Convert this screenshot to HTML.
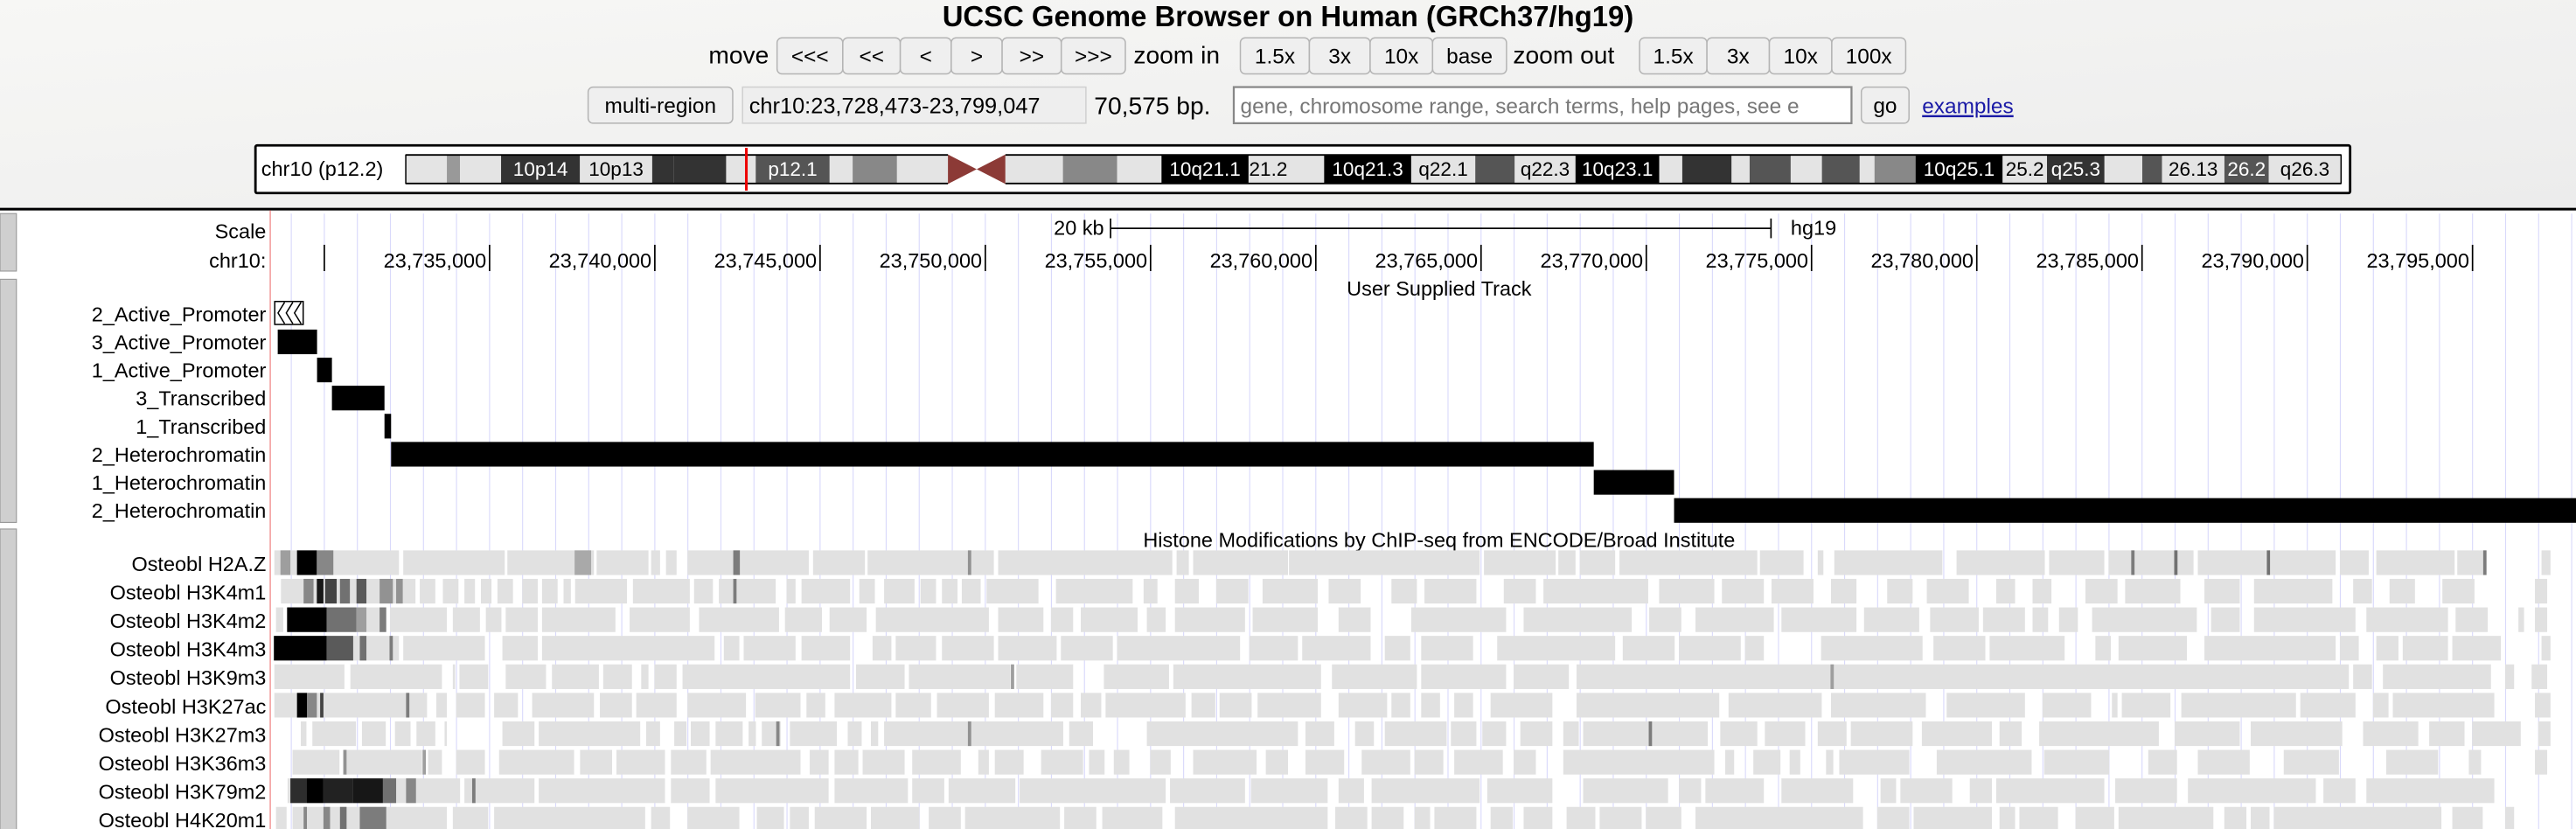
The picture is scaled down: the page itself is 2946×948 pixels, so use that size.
<!DOCTYPE html>
<html><head><meta charset="utf-8"><style>
html,body{margin:0;padding:0;width:2946px;height:948px;overflow:hidden;background:#fff}
svg{display:block}
text{font-family:"Liberation Sans",Arial,sans-serif}
</style></head><body>
<svg id="page" width="2946" height="948" viewBox="0 0 1568 504.6" preserveAspectRatio="none" xmlns="http://www.w3.org/2000/svg">
<defs><linearGradient id="hdr" x1="0" y1="0" x2="1" y2="1"><stop offset="0" stop-color="#f7f7f5"/><stop offset="1" stop-color="#ececec"/></linearGradient></defs>
<rect x="0" y="0" width="1568" height="127" fill="url(#hdr)"/>
<text x="784" y="16" font-size="17.5" font-weight="bold" text-anchor="middle">UCSC Genome Browser on Human (GRCh37/hg19)</text>
<g id="nav" font-size="13.5"></g>
<g id="ideo"></g>
<rect x="0" y="126.5" width="1568" height="1.6" fill="#000"/>
<g id="grid"></g>
<g id="main"></g>
</svg>
<script>
// ---- data ----
const regionStart = 23728473;
const regionEnd = 23799047;
const tickBp = [23730000,23735000,23740000,23745000,23750000,23755000,23760000,23765000,23770000,23775000,23780000,23785000,23790000,23795000];
const tickLabels = ["","23,735,000","23,740,000","23,745,000","23,750,000","23,755,000","23,760,000","23,765,000","23,770,000","23,775,000","23,780,000","23,785,000","23,790,000","23,795,000"];
const chromLabels = ["2_Active_Promoter","3_Active_Promoter","1_Active_Promoter","3_Transcribed","1_Transcribed","2_Heterochromatin","1_Heterochromatin","2_Heterochromatin"];
const chromStarts = [23728500,23728590,23729780,23730230,23731820,23732020,23768410,23770840];
const chromEnds   = [23729360,23729780,23730230,23731820,23732020,23768410,23770840,23799047];
const histLabels = ["Osteobl H2A.Z","Osteobl H3K4m1","Osteobl H3K4m2","Osteobl H3K4m3","Osteobl H3K9m3","Osteobl H3K27ac","Osteobl H3K27m3","Osteobl H3K36m3","Osteobl H3K79m2","Osteobl H4K20m1"];
const histBlocks = [
 [[0,3.8],[3.9,7.0],[7.05,9.7],[9.75,11.35],[11.4,11.7],[11.85,12.2],[12.5,16.2],[16.3,17.9],[17.95,21.8],[21.9,27.2],[27.3,27.7],[27.8,30.7],[30.7,36.5],[36.6,38.8],[38.85,39.4],[39.5,40.6],[40.7,44.9],[44.95,46.3],[46.7,46.9],[47.2,50.5],[50.9,53.6],[53.7,55.4],[55.5,58.1],[58.2,60.3],[60.35,62.4],[62.5,63.4],[63.6,66.0],[66.05,66.95],[68.6,68.9]],
 [[0.2,4.3],[4.4,4.9],[5.1,5.6],[5.75,6.1],[6.25,6.6],[6.75,7.25],[7.5,8.0],[8.1,8.6],[8.75,9.0],[9.1,10.7],[10.85,12.6],[12.7,13.3],[13.45,15.2],[15.5,15.8],[15.95,17.45],[17.7,18.2],[18.45,19.4],[19.55,20.05],[20.2,20.7],[20.8,21.4],[21.55,23.15],[23.65,26.0],[26.3,26.75],[27.25,28.0],[28.5,29.5],[29.9,31.6],[31.9,32.9],[33.8,34.6],[34.8,36.4],[37.2,38.2],[38.4,41.6],[41.9,43.6],[43.8,45.1],[45.3,46.6],[47.1,47.9],[48.8,49.6],[50.0,51.3],[52.1,52.7],[53.2,53.8],[54.8,55.8],[56.0,57.7],[58.4,59.5],[59.9,62.3],[62.9,63.5],[64.0,64.8],[65.6,66.6],[68.4,68.8]],
 [[0.05,0.3],[0.4,3.4],[3.5,5.25],[5.4,6.25],[6.4,6.9],[7.0,8.0],[8.1,10.35],[10.75,12.6],[12.85,15.3],[15.45,16.6],[16.8,17.95],[18.2,21.65],[21.9,23.3],[23.5,24.2],[24.4,26.15],[26.4,27.0],[27.25,29.4],[29.6,31.6],[32.2,33.2],[34.4,37.3],[37.8,41.1],[41.6,42.6],[43.0,45.4],[45.6,47.9],[48.1,49.8],[50.1,51.6],[51.7,53.0],[53.2,53.7],[54.0,54.6],[55.0,58.2],[58.6,59.5],[59.9,63.0],[63.3,65.8],[66.0,67.0],[67.9,68.1],[68.4,68.8]],
 [[0,3.8],[3.9,6.4],[6.9,8.0],[8.1,13.35],[13.6,14.1],[14.2,15.8],[15.95,17.45],[18.1,18.7],[18.8,20.05],[20.2,21.8],[21.9,23.7],[23.8,25.4],[25.5,29.25],[29.5,31.0],[31.1,33.2],[33.6,34.4],[34.7,36.3],[37.0,40.6],[40.8,42.4],[42.5,44.4],[44.5,45.1],[46.8,49.9],[50.2,51.8],[51.9,54.2],[55.1,55.6],[55.8,57.9],[58.4,62.4],[62.5,63.1],[63.6,64.3],[64.4,65.8],[65.9,67.4],[68.6,68.9]],
 [[0,2.15],[2.3,5.1],[5.4,5.5],[5.6,6.5],[7.0,8.25],[8.4,9.85],[9.95,10.85],[11.1,11.35],[11.5,12.2],[12.35,17.45],[17.6,19.1],[19.2,22.3],[22.45,24.2],[25.1,27.1],[27.2,31.7],[32.0,34.6],[34.7,37.3],[37.5,39.2],[39.4,62.8],[62.9,63.5],[63.8,67.1],[67.5,67.8],[68.3,68.8]],
 [[0,4.65],[4.9,5.25],[5.5,6.4],[6.65,7.4],[7.8,9.7],[9.85,10.85],[10.95,12.2],[12.5,14.3],[14.55,15.95],[16.1,16.7],[16.95,18.7],[18.8,19.9],[20.05,21.65],[21.8,23.3],[23.5,24.2],[24.4,25.05],[25.15,27.6],[27.75,28.5],[28.6,29.6],[29.75,31.7],[32.2,33.7],[33.8,34.4],[34.7,35.3],[35.7,36.3],[36.8,38.7],[39.4,43.75],[44.0,46.85],[47.1,50.0],[50.6,53.0],[53.5,55.0],[55.6,55.8],[55.9,57.4],[57.7,61.2],[61.3,63.0],[63.5,64.0],[64.1,67.2],[68.4,68.9]],
 [[0.8,1.0],[1.15,2.5],[2.65,3.4],[3.65,4.15],[4.3,4.9],[5.15,5.25],[6.9,7.9],[8.0,11.1],[11.25,11.7],[12.1,12.5],[12.6,13.2],[13.35,14.2],[14.35,14.6],[14.75,15.35],[15.6,17.05],[17.35,17.8],[18.05,18.3],[18.45,23.9],[24.05,24.8],[26.4,31.0],[31.2,32.1],[32.7,33.3],[33.6,35.5],[35.6,36.4],[36.55,37.3],[37.7,38.7],[39.0,39.5],[39.6,43.4],[43.75,44.9],[45.1,46.35],[46.7,47.6],[47.7,49.6],[49.85,52.0],[52.2,52.9],[53.4,57.05],[57.5,59.5],[59.8,62.6],[63.2,64.9],[65.2,66.3],[66.5,68.0],[68.5,68.9]],
 [[0.55,2.0],[2.15,4.5],[4.65,5.1],[5.5,6.4],[6.8,9.1],[9.25,10.25],[10.35,11.85],[12.0,13.1],[13.2,15.95],[16.2,16.8],[16.95,17.7],[17.8,19.1],[19.3,20.8],[21.3,21.65],[21.8,22.7],[23.2,24.5],[24.65,25.15],[25.4,25.9],[26.5,27.15],[27.8,29.75],[30.0,30.7],[31.2,32.4],[32.9,34.4],[34.5,35.4],[35.7,37.2],[37.5,38.2],[39.0,43.6],[43.9,44.2],[44.75,45.6],[45.85,46.2],[46.95,47.2],[47.35,49.5],[50.3,53.2],[53.55,55.55],[56.7,57.6],[58.2,59.8],[60.8,62.5],[63.9,65.5],[66.4,66.8],[68.4,68.8]],
 [[0.4,5.65],[5.75,7.9],[8.0,11.85],[12.0,13.2],[13.35,16.8],[16.95,19.2],[19.3,20.3],[20.4,22.45],[22.55,27.0],[27.1,29.4],[29.55,31.9],[32.2,33.0],[33.2,36.5],[36.7,38.7],[39.6,42.2],[42.5,43.2],[43.3,45.1],[45.6,47.8],[48.6,49.1],[49.2,50.8],[51.3,52.0],[52.1,55.4],[55.7,57.6],[57.9,61.8],[62.0,63.0],[63.3,67.2]],
 [[0.05,0.4],[0.55,5.25],[5.4,6.5],[6.65,11.25],[11.4,12.0],[12.5,14.1],[14.6,15.45],[15.6,16.2],[16.35,17.95],[18.05,19.55],[19.8,20.8],[20.9,23.8],[23.9,24.9],[25.05,26.9],[27.25,31.9],[32.1,33.1],[33.2,34.2],[34.5,35.0],[35.1,36.4],[36.8,37.5],[37.8,38.7],[39.1,40.0],[40.1,41.4],[41.5,42.6],[43.0,48.1],[48.5,49.5],[49.6,52.0],[52.2,52.7],[52.8,54.0],[54.5,55.7],[55.8,58.7],[59.0,59.7],[59.8,60.4],[60.5,65.6],[65.9,66.85],[67.5,67.8]]
];
const histSignals = [
 [[0.2,0.5,0.3],[0.7,1.3,1.0],[1.3,1.8,0.4],[9.1,9.6,0.25],[13.9,14.1,0.45],[21.0,21.1,0.35],[56.2,56.3,0.45],[57.5,57.6,0.5],[60.3,60.4,0.5],[66.85,66.95,0.45]],
 [[0.9,1.2,0.4],[1.3,1.5,0.9],[1.55,1.9,0.7],[2.0,2.3,0.5],[2.5,2.8,0.6],[3.2,3.6,0.35],[3.7,3.9,0.35],[13.9,14.0,0.45]],
 [[0.4,1.6,1.0],[1.6,2.5,0.5],[2.5,2.8,0.3],[3.2,3.4,0.45]],
 [[0,1.6,1.0],[1.6,2.4,0.6],[2.6,2.8,0.5],[3.5,3.6,0.45]],
 [[22.3,22.4,0.3],[47.1,47.2,0.3]],
 [[0.7,1.0,1.0],[1.0,1.3,0.4],[1.4,1.5,0.7],[4.0,4.1,0.45]],
 [[15.2,15.3,0.4],[21.0,21.1,0.35],[41.6,41.7,0.45]],
 [[2.1,2.2,0.35],[4.5,4.6,0.3]],
 [[0.5,1.0,0.8],[1.0,1.5,1.0],[1.5,2.4,0.85],[2.4,3.3,0.9],[3.3,3.7,0.5],[4.0,4.3,0.4],[6.0,6.1,0.45]],
 [[0.9,1.0,0.4],[1.5,1.7,0.4],[2.0,2.2,0.5],[2.6,3.4,0.45]]
];
const bandStarts = [247,272,280,305,353,397,410,442,460,505,519,546,577,612,647,680,707,760,784,806,859,898,922,959,1010,1024,1054,1065,1090,1109,1132,1141,1166,1219,1246,1281,1304,1316,1354,1381];
const bandEnds   = [272,280,305,353,397,410,442,460,505,519,546,577,612,647,680,707,760,784,806,859,898,922,959,1010,1024,1054,1065,1090,1109,1132,1141,1166,1219,1246,1281,1304,1316,1354,1381,1425];
const bandShades = ["#e4e4e4","#999","#e4e4e4","#333","#e4e4e4","#333","#333","#e4e4e4","#555","#e4e4e4","#888","#e4e4e4","cen","#e4e4e4","#888","#e4e4e4","#000","#e4e4e4","#e4e4e4","#000","#e4e4e4","#555","#e4e4e4","#000","#e4e4e4","#333","#e4e4e4","#555","#e4e4e4","#555","#e4e4e4","#888","#000","#e4e4e4","#333","#e4e4e4","#555","#e4e4e4","#555","#e4e4e4"];
const bandNames  = ["","","","10p14","10p13","","","","p12.1","","","","","","","","10q21.1","21.2","","10q21.3","q22.1","","q22.3","10q23.1","","","","","","","","","10q25.1","25.2","q25.3","","","26.13","26.2","q26.3"];
const scaleBarStart = 23753790;
const scaleBarEnd = 23773773;

const NS = "http://www.w3.org/2000/svg";
const svg = document.getElementById('page');
function mk(tag, attrs, parent, txt){
  const e = document.createElementNS(NS, tag);
  for (const k in attrs) e.setAttribute(k, attrs[k]);
  if (txt !== undefined) e.textContent = txt;
  (parent||svg).appendChild(e);
  return e;
}
const X0 = 166.7, PXPB = 20.117/1000;
function xScale(bp){ return X0 + (bp - regionStart) * PXPB; }
function xKb(kb){ return xScale(regionStart + kb*1000); }
const DATA_RIGHT = 1568;

const nav = document.getElementById('nav');
function button(x,y,w,h,label,name){
  const r = mk('rect',{x:x,y:y,width:w,height:h,rx:3,fill:'#efefef',stroke:'#b4b4b4','stroke-width':0.8},nav);
  
  
  const t = mk('text',{x:x+w/2,y:y+h/2+4.7,'text-anchor':'middle','font-size':13},nav,label);
  
  
}
let t = mk('text',{x:468,y:38.5,'text-anchor':'end','font-size':15},nav,'move');
 
[[473,40,'<<<','move-far-left'],[513,35,'<<','move-left-more'],[548,31,'<','move-left'],[579,31,'>','move-right'],[610,36,'>>','move-right-more'],[646,39,'>>>','move-far-right']].forEach(b=>button(b[0],23,b[1],22,b[2],b[3]));
t = mk('text',{x:690,y:38.5,'font-size':15},nav,'zoom in');
 
[[755,42,'1.5x','zoom-in-1-5x'],[797,37,'3x','zoom-in-3x'],[834,38,'10x','zoom-in-10x'],[872,45,'base','zoom-in-base']].forEach(b=>button(b[0],23,b[1],22,b[2],b[3]));
t = mk('text',{x:921,y:38.5,'font-size':15},nav,'zoom out');
 
[[998,41,'1.5x','zoom-out-1-5x'],[1039,38,'3x','zoom-out-3x'],[1077,38,'10x','zoom-out-10x'],[1115,45,'100x','zoom-out-100x']].forEach(b=>button(b[0],23,b[1],22,b[2],b[3]));
button(358,53,88,22,'multi-region','multi-region-button');
let r = mk('rect',{x:452,y:53,width:209,height:22,fill:'#eeeeee',stroke:'#d0d0d0','stroke-width':0.8},nav);
 
t = mk('text',{x:456,y:69,'font-size':13.5},nav,'chr10:23,728,473-23,799,047');
 
t = mk('text',{x:666,y:69.5,'font-size':15},nav,'70,575 bp.');
 
r = mk('rect',{x:751,y:53,width:376,height:22,fill:'#fff',stroke:'#888','stroke-width':1.2},nav);
 
t = mk('text',{x:755,y:69,'font-size':13,fill:'#777'},nav,'gene, chromosome range, search terms, help pages, see e');
 
button(1133,53,29,22,'go','go-button');
t = mk('text',{x:1170,y:69,'font-size':13,fill:'#1a1aa6','text-decoration':'underline'},nav,'examples');
 

const ideo = document.getElementById('ideo');
r = mk('rect',{x:155.5,y:88.5,width:1275,height:29,fill:'#fff',stroke:'#000','stroke-width':1.5,rx:1},ideo);
 
t = mk('text',{x:159,y:107,'font-size':12.5},ideo,'chr10 (p12.2)');
 
for (let i=0;i<bandStarts.length;i++){
  const x1=bandStarts[i], x2=bandEnds[i], c=bandShades[i];
  if (c==='cen'){
    const p = mk('polygon',{points:`${x1},94 ${(x1+x2)/2},103 ${x1},112`,fill:'#8c3a36'},ideo);
     
    mk('polygon',{points:`${x2},94 ${(x1+x2)/2},103 ${x2},112`,fill:'#8c3a36'},ideo);
    continue;
  }
  const b = mk('rect',{x:x1,y:94.5,width:x2-x1,height:17,fill:c},ideo);
  
  
  if (bandNames[i]){
    const dark = (c==='#000'||c==='#333'||c==='#555');
    const bt = mk('text',{x:(x1+x2)/2,y:107,'text-anchor':'middle','font-size':12,fill:dark?'#fff':'#000'},ideo,bandNames[i]);
    
    
  }
}
mk('line',{x1:247,y1:94.3,x2:577,y2:94.3,stroke:'#000','stroke-width':1},ideo);
mk('line',{x1:247,y1:111.7,x2:577,y2:111.7,stroke:'#000','stroke-width':1},ideo);
mk('line',{x1:612,y1:94.3,x2:1425,y2:94.3,stroke:'#000','stroke-width':1},ideo);
mk('line',{x1:612,y1:111.7,x2:1425,y2:111.7,stroke:'#000','stroke-width':1},ideo);
mk('line',{x1:247,y1:94,x2:247,y2:112,stroke:'#000','stroke-width':0.8},ideo);
mk('line',{x1:1425,y1:94,x2:1425,y2:112,stroke:'#000','stroke-width':0.8},ideo);
r = mk('rect',{x:453.5,y:90,width:1.6,height:26,fill:'#e00'},ideo);
 

const main = document.getElementById('main');
[[130,35],[170,148],[322,183]].forEach((g)=>{
  const gr = mk('rect',{x:0,y:g[0],width:10,height:g[1],fill:'#cfcfcf',stroke:'#999','stroke-width':0.6},main);
  
  
});

const grid = document.getElementById('grid');
for (let bp = Math.ceil(regionStart/1000)*1000; bp <= regionEnd; bp += 1000){
  const x = xScale(bp);
  if (x > DATA_RIGHT) break;
  const gl = mk('line',{x1:x,y1:130,x2:x,y2:505,stroke:'#d9d9fb','stroke-width':0.6},grid);
  
  
}
mk('line',{x1:164.5,y1:128,x2:164.5,y2:505,stroke:'#f08a8a','stroke-width':0.7},grid);

t = mk('text',{x:162,y:145,'text-anchor':'end','font-size':12.5},main,'Scale');
 
t = mk('text',{x:xScale(scaleBarStart)-4,y:143,'text-anchor':'end','font-size':12.5},main,'20 kb');
 
const sb = mk('line',{x1:xScale(scaleBarStart),y1:139,x2:xScale(scaleBarEnd),y2:139,stroke:'#000','stroke-width':0.9},main);
 
mk('line',{x1:xScale(scaleBarStart),y1:133,x2:xScale(scaleBarStart),y2:145,stroke:'#000','stroke-width':0.9},main);
mk('line',{x1:xScale(scaleBarEnd),y1:133,x2:xScale(scaleBarEnd),y2:145,stroke:'#000','stroke-width':0.9},main);
t = mk('text',{x:xScale(scaleBarEnd)+12,y:143,'font-size':12.5},main,'hg19');
 
t = mk('text',{x:162,y:163,'text-anchor':'end','font-size':12.5},main,'chr10:');
 
tickBp.forEach((bp,i)=>{
  const x = xScale(bp);
  const tk = mk('line',{x1:x,y1:149,x2:x,y2:165,stroke:'#000','stroke-width':0.9},main);
  
  
  if (tickLabels[i]){
    const tl = mk('text',{x:x-2,y:163,'text-anchor':'end','font-size':12.5},main,tickLabels[i]);
    
    
  }
});

t = mk('text',{x:876,y:180,'text-anchor':'middle','font-size':12.5},main,'User Supplied Track');
 
chromLabels.forEach((lab,i)=>{
  const y = 183 + i*17.1;
  const l = mk('text',{x:162,y:y+12.5,'text-anchor':'end','font-size':12.5},main,lab);
  
  
  const x1 = xScale(chromStarts[i]), x2 = Math.min(xScale(chromEnds[i]), DATA_RIGHT);
  if (i===0){
    const g = mk('rect',{x:x1,y:y+0.5,width:x2-x1,height:14,fill:'#fff',stroke:'#000','stroke-width':0.8},main);
    
    
    mk('polyline',{points:`${x1+6},${y+1} ${x1+2},${y+7.5} ${x1+6},${y+14}`,fill:'none',stroke:'#000','stroke-width':0.8},main);
    mk('polyline',{points:`${x1+11},${y+1} ${x1+7},${y+7.5} ${x1+11},${y+14}`,fill:'none',stroke:'#000','stroke-width':0.8},main);
    mk('polyline',{points:`${x1+16},${y+1} ${x1+12},${y+7.5} ${x1+16},${y+14}`,fill:'none',stroke:'#000','stroke-width':0.8},main);
  } else {
    const b = mk('rect',{x:x1,y:y+0.5,width:Math.max(x2-x1,1.5),height:15,fill:'#000'},main);
    
    
  }
});

t = mk('text',{x:876,y:333,'text-anchor':'middle','font-size':12.5},main,'Histone Modifications by ChIP-seq from ENCODE/Broad Institute');
 
histLabels.forEach((lab,i)=>{
  const y = 335 + i*17.35;
  const l = mk('text',{x:162,y:y+12.5,'text-anchor':'end','font-size':12.5},main,lab);
  
  
  histBlocks[i].forEach(bk=>{
    const x1 = xKb(bk[0]), x2 = Math.min(xKb(bk[1]), DATA_RIGHT);
    if (x2 <= x1) return;
    const b = mk('rect',{x:x1+0.3,y:y,width:Math.max(x2-x1-0.6,0.6),height:15,fill:'#e1e1e1'},main);
    
    
  });
  histSignals[i].forEach(sg=>{
    const x1 = xKb(sg[0]), x2 = xKb(sg[1]);
    const v = Math.round(225 - sg[2]*225);
    const s = mk('rect',{x:x1,y:y,width:Math.max(x2-x1,0.8),height:15,fill:`rgb(${v},${v},${v})`},main);
    
    
  });
});
</script>
</body></html>
